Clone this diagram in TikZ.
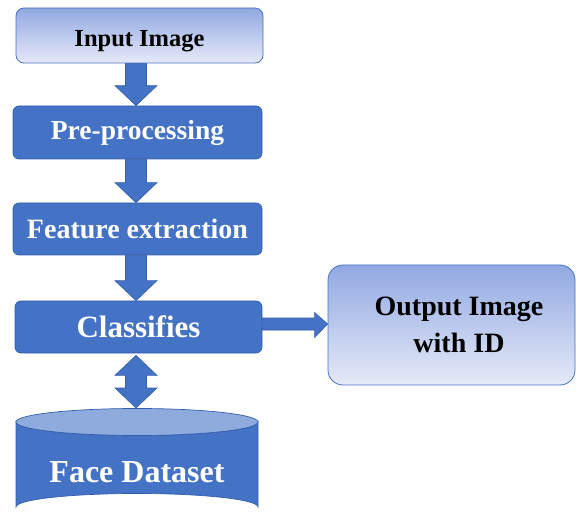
\documentclass[tikz,border=0pt]{standalone}
\usepackage{fontspec}
\setmainfont{Liberation Serif}
\usetikzlibrary{calc,shapes.geometric}
\definecolor{office}{RGB}{68,114,196}
\definecolor{officeedge}{RGB}{52,94,172}
\definecolor{lighttop}{RGB}{145,168,226}
\definecolor{lightbot}{RGB}{230,234,248}
\definecolor{cyltop}{RGB}{143,170,220}
\tikzset{
  darkbox/.style={rectangle, rounded corners=6pt, fill=office, draw=officeedge, line width=0.7pt,
    text=white, font=\bfseries, inner sep=0pt},
  lightbox/.style={rectangle, rounded corners=8pt, top color=lighttop, bottom color=lightbot,
    draw=office, line width=0.8pt, text=black, font=\bfseries, inner sep=0pt},
  blockarrow/.style={fill=office, draw=officeedge, line width=0.6pt, line join=miter},
}
% down block arrow: #1 upper node, #2 lower node
\newcommand\blkdown[2]{%
  \path[blockarrow] let \p1=(#1.south), \p2=(#2.north) in
    (136-10.5,\y1) -- (136+10.5,\y1) -- (136+10.5,\y2+20) -- (136+21,\y2+20) -- (136,\y2)
    -- (136-21,\y2+20) -- (136-10.5,\y2+20) -- cycle;}
\begin{document}
\begin{tikzpicture}[x=1pt,y=-1pt]
\useasboundingbox (0,0) rectangle (576,513);

\node[lightbox, minimum width=247pt, minimum height=55pt, text height=25pt, text depth=2pt, font=\bfseries\fontsize{24.5}{29}\selectfont] (inp) at (139.5,35.5) {Input Image};
\node[darkbox, minimum width=249pt, minimum height=53pt, font=\bfseries\fontsize{27.5}{32}\selectfont] (pre) at (137.5,132.5) {Pre-processing};
\node[darkbox, minimum width=249pt, minimum height=52pt, font=\bfseries\fontsize{28}{32}\selectfont] (feat) at (137.5,229) {Feature extraction};
\node[darkbox, minimum width=247pt, minimum height=52pt, font=\bfseries\fontsize{31}{36}\selectfont] (cls) at (138.5,327) {Classifies};
\node[lightbox, rounded corners=15pt, minimum width=247pt, minimum height=120pt, align=center, font=\bfseries\fontsize{28}{37}\selectfont] (out) at (451.5,325) {\hspace*{15pt}Output Image\\\hspace*{15pt}with ID};

% cylinder
\begin{scope}
\clip (0,0) rectangle (576,513);
\path[fill=office, draw=officeedge, line width=0.7pt]
  (16,422) -- (16,507) arc[start angle=180, end angle=360, x radius=121, y radius=13.5]
  -- (258,422) arc[start angle=0, end angle=180, x radius=121, y radius=13.5] -- cycle;
\path[fill=cyltop, draw=officeedge, line width=0.7pt] (137,422) ellipse[x radius=121, y radius=13.5];
\end{scope}
\node[text=white, font=\bfseries\fontsize{32}{36}\selectfont, inner sep=0pt] (db) at (137,472) {Face Dataset};
\coordinate (dbtop) at (137,408);

% arrows
\blkdown{inp}{pre}
\blkdown{pre}{feat}
\blkdown{feat}{cls}

% double arrow
\path[blockarrow] let \p1=(cls.south), \p2=(dbtop) in
  (136,\y1-2) -- (136+21,\y1-22) -- (136+10.5,\y1-22) -- (136+10.5,\y2+20) -- (136+21,\y2+20)
  -- (136,\y2) -- (136-21,\y2+20) -- (136-10.5,\y2+20) -- (136-10.5,\y1-22) -- (136-21,\y1-22) -- cycle;

% right arrow
\path[blockarrow] let \p1=(cls.east), \p2=(out.west) in
  (\x1,318) -- (\x2-13,318) -- (\x2-13,312.5) -- (\x2,324) -- (\x2-13,337.5) -- (\x2-13,330) -- (\x1,330) -- cycle;
\end{tikzpicture}
\end{document}
